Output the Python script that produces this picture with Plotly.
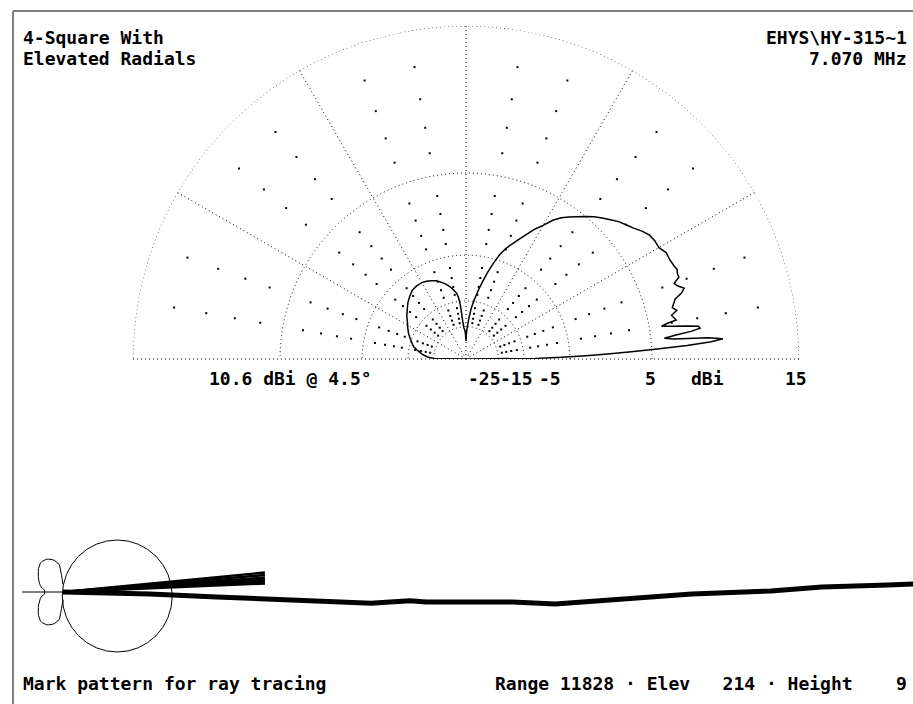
import math
import plotly.graph_objects as go

# ---------------- data ----------------
# Elevation pattern (elevation angle in degrees, gain in dBi)
ELEV_DEG = [0, 0.5, 1, 1.5, 2, 2.5, 3, 3.5, 4, 4.5, 5, 5.5, 6, 6.5, 7, 7.5, 8, 8.5, 9, 9.5,
            10, 10.5, 11, 12, 13, 14, 15, 16, 17, 18, 19, 20, 21, 22, 23, 24, 26, 28, 30, 32,
            34, 36, 38, 40, 42, 44, 46, 48, 50, 52, 54, 56, 58, 60, 62, 64, 66, 68, 70, 72,
            74, 76, 78, 80, 82, 84, 86, 88, 89, 90, 91, 92, 94, 95, 96, 97, 98, 100, 102, 105,
            108, 111, 114, 117, 120, 124, 128, 132, 136, 140, 144, 148, 152, 156, 160, 164, 167, 170, 174, 177,
            179, 180]
GAIN_DBI = [-99, -12, -6.5, -3, 0, 3, 5.5, 8, 9.8, 10.6, 9.6, 7.0, 6.2, 7.2, 8.4, 9.1, 9.0, 8.2, 7.0, 6.1,
            6.6, 7.4, 7.3, 7.1, 7.6, 7.3, 7.5, 7.7, 8.3, 8.6, 8.2, 8.0, 8.5, 8.5, 8.6, 8.5, 8.4, 8.4, 8.1, 8.1,
            8.0, 7.7, 7.3, 7.0, 6.7, 6.3, 5.9, 5.5, 5.0, 4.5, 4.0, 3.5, 2.8, 1.8, 1.0, 0.0, -1.0, -1.9, -2.8, -4.0,
            -5.7, -7.6, -9.8, -12.0, -14.5, -17.0, -21.0, -26.0, -29.0, -35.0, -30.0, -27.5, -25.5, -22.0, -16.0, -13.8, -12.7, -11.8, -11.0, -10.0,
            -9.3, -8.7, -8.3, -8.0, -7.8, -7.8, -8.0, -8.6, -9.3, -10.2, -11.0, -12.0, -12.8, -13.6, -14.6, -15.6, -16.3, -17.8, -19.8, -22.0,
            -25.0, -99]

MAX_DBI = 15.0                      # outer ring of the ARRL log scale
MAJOR_RING_DBI = [-25, -15, -5, 5]
MINOR_RING_DBI = [13, 11, 9, 7, 3, 1, -1, -3, -7, -9, -11, -13, -17, -19, -21, -23]
MINOR_SPOKE_DEG = [10, 20, 40, 50, 70, 80, 100, 110, 130, 140, 160, 170]
RING_LABELS = ["-25", "-15", "-5", "5", "dBi", "15"]

# Ray-tracing panel (distance in km from antenna, height in m relative to antenna)
TERRAIN_KM = [0, 1.21, 2.14, 3.06, 3.30, 3.99, 4.29, 4.55, 4.83, 5.05, 5.32, 6.25, 6.85, 7.93, 8.75, 9.85, 10.56, 11.48, 11.83]
TERRAIN_M = [0, -2, -5, -8, -9, -11, -11.3, -10, -8.7, -10, -10, -10, -12, -6, -2, 1, 5, 7, 8]
RAY_END_KM = [2.81, 2.81, 2.81, 2.81, 2.81, 2.81]
RAY_END_M = [19.5, 17, 14.5, 12.5, 10.5, 8.5]
HORIZON_KM = [-0.57, 0.5]
MARK_CIRCLE_KM = [-0.01, 1.52]
MARK_CIRCLE_M = [-60, 52]
MARK_SCALE_KM = 1.95
MARK_SCALE_M = 140
MARK_MAX_DEG = 174

TITLE_LEFT = ["4-Square With", "Elevated Radials"]
TITLE_RIGHT = ["EHYS\\HY-315~1", "7.070 MHz"]
MAX_NOTE = "10.6 dBi @ 4.5°"
FOOT_LEFT = "Mark pattern for ray tracing"
FOOT_RIGHT = "Range 11828 · Elev   214 · Height    9"


def arrl(db):
    return max(0.0, 0.89 ** ((MAX_DBI - db) / 2.0))


W, H = 913, 704
FONT = dict(family="DejaVu Sans Mono, monospace", size=18, color="black")
DOT = "1px,3px"

fig = go.Figure()

# outer ring of the grid (15 dBi)
fig.add_trace(go.Scatterpolar(r=[arrl(MAX_DBI)] * 181, theta=list(range(181)), mode="lines",
                              line=dict(color="black", width=1, dash=DOT),
                              hoverinfo="skip", showlegend=False))

# minor grid dots
mr, mt = [], []
for d in MINOR_RING_DBI:
    for a in MINOR_SPOKE_DEG:
        mr.append(arrl(d))
        mt.append(a)
fig.add_trace(go.Scatterpolar(r=mr, theta=mt, mode="markers",
                              marker=dict(size=2, color="black", symbol="square", line=dict(width=0)),
                              hoverinfo="skip", showlegend=False))

# pattern
fig.add_trace(go.Scatterpolar(r=[arrl(g) for g in GAIN_DBI], theta=ELEV_DEG, mode="lines",
                              line=dict(color="black", width=1.5), showlegend=False))

# ---- ray tracing panel ----
lx, ly = [], []
for a, g in zip(ELEV_DEG, GAIN_DBI):
    if 90 <= a <= MARK_MAX_DEG:
        r = arrl(g)
        lx.append(MARK_SCALE_KM * r * math.cos(math.radians(a)))
        ly.append(MARK_SCALE_M * r * math.sin(math.radians(a)))
mx = lx + lx[::-1]
my = ly + [-v for v in ly[::-1]]
fig.add_trace(go.Scatter(x=mx, y=my, mode="lines", line=dict(color="black", width=1),
                         xaxis="x", yaxis="y", showlegend=False))

fig.add_trace(go.Scatter(x=HORIZON_KM, y=[0, 0], mode="lines", line=dict(color="black", width=1),
                         showlegend=False))

for xe, ye in zip(RAY_END_KM, RAY_END_M):
    fig.add_trace(go.Scatter(x=[0, xe], y=[0, ye], mode="lines", line=dict(color="black", width=2.4),
                             showlegend=False))

fig.add_trace(go.Scatter(x=TERRAIN_KM, y=TERRAIN_M, mode="lines", line=dict(color="black", width=5),
                         showlegend=False))

shapes = [
    dict(type="circle", xref="x", yref="y", x0=MARK_CIRCLE_KM[0], x1=MARK_CIRCLE_KM[1],
         y0=MARK_CIRCLE_M[0], y1=MARK_CIRCLE_M[1], line=dict(color="black", width=1)),
    dict(type="line", xref="paper", yref="paper", x0=13 / W, x1=1, y0=1 - 11 / H, y1=1 - 11 / H,
         line=dict(color="#555", width=1.5)),
    dict(type="line", xref="paper", yref="paper", x0=13 / W, x1=13 / W, y0=0, y1=1 - 11 / H,
         line=dict(color="#555", width=1.5)),
]

ann = []
def px_text(text, x, y, xanchor="left"):
    ann.append(dict(text="<b>%s</b>" % text, x=x / W, y=1 - y / H, xref="paper", yref="paper",
                    xanchor=xanchor, yanchor="middle", showarrow=False, font=FONT))

px_text(TITLE_LEFT[0], 21, 37)
px_text(TITLE_LEFT[1], 21, 58)
px_text(TITLE_RIGHT[0], 909, 37, "right")
px_text(TITLE_RIGHT[1], 909, 58, "right")
px_text(MAX_NOTE, 290, 378, "center")
for lab, xp in zip(RING_LABELS, [484, 516, 550, 650, 707, 796]):
    px_text(lab, xp, 378, "center")
px_text(FOOT_LEFT, 21, 683)
px_text(FOOT_RIGHT.replace(" ", "\u00a0"), 909, 683, "right")

fig.update_layout(
    width=W, height=H, margin=dict(l=0, r=0, t=0, b=0),
    paper_bgcolor="white", plot_bgcolor="white",
    polar=dict(
        domain=dict(x=[133 / W, 799 / W], y=[1 - 359 / H, 1 - 26 / H]),
        sector=[0, 180], bgcolor="white",
        radialaxis=dict(range=[0, 1], tickvals=[arrl(d) for d in MAJOR_RING_DBI],
                        showticklabels=False, ticks="", showline=False,
                        gridcolor="black", gridwidth=1, griddash=DOT),
        angularaxis=dict(tickvals=[0, 30, 60, 90, 120, 150, 180], showticklabels=False, ticks="",
                         showline=False, gridcolor="black", gridwidth=1, griddash=DOT,
                         direction="counterclockwise", rotation=0),
    ),
    xaxis=dict(domain=[0, 1], range=[-63 / 71.86, 11.828], visible=False),
    yaxis=dict(domain=[1 - 660 / H, 1 - 530 / H], range=[-68, 62], visible=False),
    shapes=shapes, annotations=ann, showlegend=False,
)

fig.write_html("out.html", config={"displayModeBar": False},
               post_script="document.body.style.margin='0px';")
